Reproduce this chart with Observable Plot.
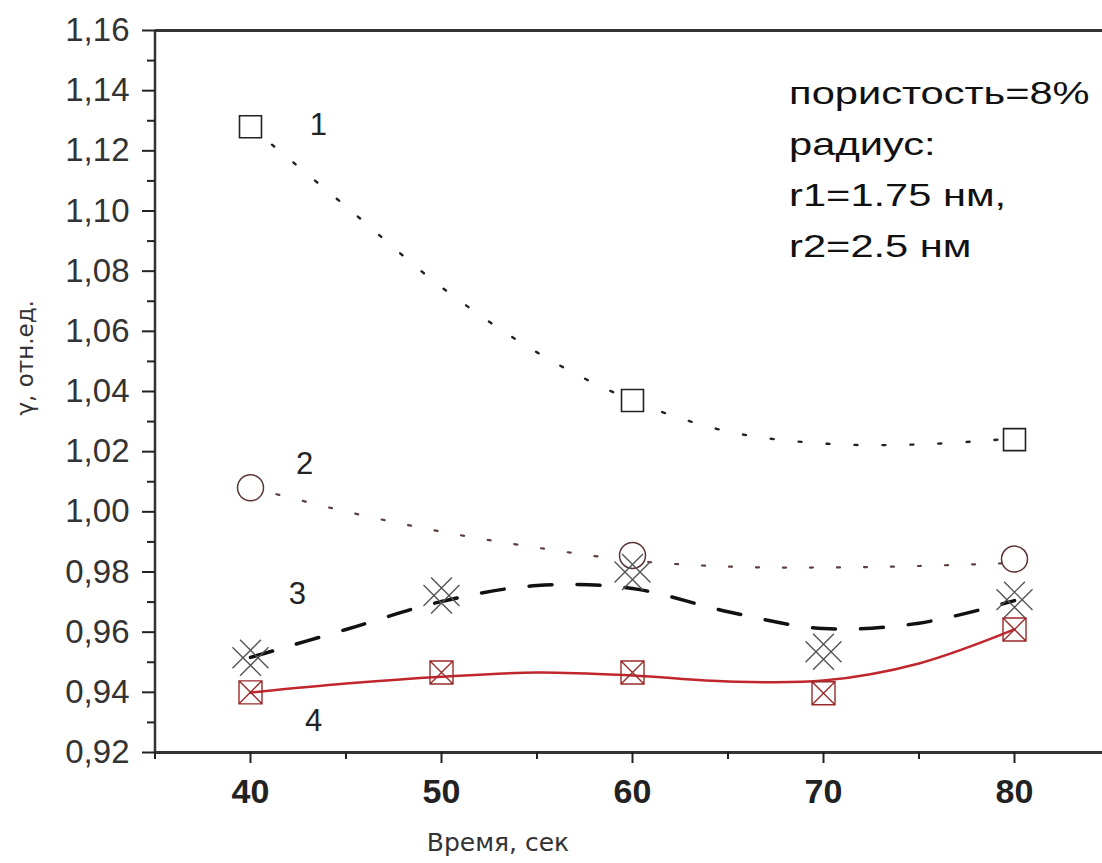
<!DOCTYPE html>
<html>
<head>
<meta charset="utf-8">
<script src="https://cdn.jsdelivr.net/npm/d3@7"></script>
<script src="https://cdn.jsdelivr.net/npm/@observablehq/plot@0.6"></script>
<style>
  html, body { margin: 0; padding: 0; background: #fff; overflow: hidden; }
  #chart svg { display: block; }
</style>
</head>
<body>
<div id="chart"></div>
<script>
// ---- data ----
const timeAll = [40, 50, 60, 70, 80];
const timeSparse = [40, 60, 80];
const gamma1 = [1.128, 1.037, 1.024];
const gamma2 = [1.008, 0.9855, 0.9843];
const gamma3 = [0.9515, 0.9722, 0.9800, 0.9535, 0.9708];
const gamma4 = [0.9400, 0.9466, 0.9466, 0.9397, 0.9609];

const fitTime = [40, 45, 50, 55, 60, 65, 70, 75, 80];
const fit1 = [1.128, 1.1015, 1.0747, 1.053, 1.037, 1.0267, 1.0227, 1.0224, 1.0244];
const fit2 = [1.0081, 1.0001, 0.9934, 0.9881, 0.9838, 0.9818, 0.9815, 0.9820, 0.9830];
const fit3 = [0.9516, 0.9609, 0.9702, 0.9755, 0.9745, 0.9668, 0.9612, 0.9630, 0.9705];
const fit4 = [0.9399, 0.9429, 0.9452, 0.9466, 0.9456, 0.9436, 0.9439, 0.9496, 0.9609];

const curveLabels = ["1", "2", "3", "4"];
const curveLabelX = [43.56, 42.83, 42.46, 43.3];
const curveLabelY = [1.1287, 1.016, 0.9728, 0.9303];

const noteText = "пористость=8%\nрадиус:\nr1=1.75 нм,\nr2=2.5 нм";
const noteX = [68.2];
const noteY = [1.1477];

const xTicksMajor = [40, 50, 60, 70, 80];
const xTicksMinor = [35, 45, 55, 65, 75];
const yTicksMajor = [0.92, 0.94, 0.96, 0.98, 1.00, 1.02, 1.04, 1.06, 1.08, 1.10, 1.12, 1.14, 1.16];
const yTicksMinor = [0.93, 0.95, 0.97, 0.99, 1.01, 1.03, 1.05, 1.07, 1.09, 1.11, 1.13, 1.15];

const xTitle = "Время, сек";
const yTitle = "γ, отн.ед.";

// ---- tables ----
const zip = (xs, ys) => xs.map((x, i) => ({x, y: ys[i]}));
const pts1 = zip(timeSparse, gamma1);
const pts2 = zip(timeSparse, gamma2);
const pts3 = zip(timeAll, gamma3);
const pts4 = zip(timeAll, gamma4);
const line1 = zip(fitTime, fit1);
const line2 = zip(fitTime, fit2);
const line3 = zip(fitTime, fit3);
const line4 = zip(fitTime, fit4);
const labels = curveLabels.map((t, i) => ({t, x: curveLabelX[i], y: curveLabelY[i]}));

// ---- custom symbols ----
const doubleCross = {
  draw(ctx, size) {
    const h = Math.sqrt(size / Math.PI);
    const d = h * 0.42;
    ctx.moveTo(-h, -h + d); ctx.lineTo(h - d, h);
    ctx.moveTo(-h + d, -h); ctx.lineTo(h, h - d);
    ctx.moveTo(h, -h + d); ctx.lineTo(-h + d, h);
    ctx.moveTo(h - d, -h); ctx.lineTo(-h, h - d);
  }
};
const squareCross = {
  draw(ctx, size) {
    const h = Math.sqrt(size / Math.PI);
    ctx.moveTo(-h, -h); ctx.lineTo(h, -h); ctx.lineTo(h, h); ctx.lineTo(-h, h); ctx.closePath();
    ctx.moveTo(-h, -h); ctx.lineTo(h, h);
    ctx.moveTo(h, -h); ctx.lineTo(-h, h);
  }
};

const fmt = d => d3.format(".2f")(d).replace(".", ",");
const SANS = "Liberation Sans, Arial, sans-serif";

const chart = Plot.plot({
  width: 1102,
  height: 863,
  marginLeft: 155,
  marginRight: 0,
  marginTop: 30,
  marginBottom: 111,
  style: {fontFamily: "DejaVu Sans, Liberation Sans, sans-serif", background: "#fff", color: "#222"},
  x: {domain: [35, 85], range: [154.5, 1109.5], label: null},
  y: {domain: [0.92, 1.16], range: [752, 30], label: null},
  marks: [
    // fitted curves
    Plot.line(line1, {x: "x", y: "y", curve: "catmull-rom", stroke: "#222", strokeWidth: 2.4, strokeDasharray: "3,25"}),
    Plot.line(line2, {x: "x", y: "y", curve: "catmull-rom", stroke: "#5e3e3e", strokeWidth: 2.2, strokeDasharray: "3,24"}),
    Plot.line(line3, {x: "x", y: "y", curve: "catmull-rom", stroke: "#111", strokeWidth: 3.5, strokeDasharray: "23,25"}),
    Plot.line(line4, {x: "x", y: "y", curve: "catmull-rom", stroke: "#c0262d", strokeWidth: 2.5}),
    // markers
    Plot.dot(pts1, {x: "x", y: "y", symbol: "square", r: 12.4, stroke: "#222", strokeWidth: 1.6, fill: "white"}),
    Plot.dot(pts2, {x: "x", y: "y", symbol: "circle", r: 13, stroke: "#5b3535", strokeWidth: 1.5, fill: "white"}),
    Plot.dot(pts3, {x: "x", y: "y", symbol: doubleCross, r: 18, stroke: "#555", strokeWidth: 1.4, fill: "none"}),
    Plot.dot(pts4, {x: "x", y: "y", symbol: squareCross, r: 11.5, stroke: "#9a2a2a", strokeWidth: 1.4, fill: "none"}),
    // frame lines
    Plot.ruleY([1.16], {stroke: "#333", strokeWidth: 3}),
    Plot.ruleY([0.92], {stroke: "#333", strokeWidth: 3}),
    Plot.ruleX([35], {stroke: "#333", strokeWidth: 2.5}),
    // axes
    Plot.axisY({ticks: yTicksMajor, tickSize: 13, tickPadding: 13, tickFormat: fmt, fontSize: 33, fontFamily: SANS, fill: "#333", strokeWidth: 2, label: null}),
    Plot.axisY({ticks: yTicksMinor, tickSize: 8, text: null, strokeWidth: 2, label: null}),
    Plot.axisX({ticks: xTicksMajor, tickSize: 11, tickPadding: 15, tickFormat: d => String(d), fontSize: 34, fontFamily: SANS, fontWeight: "bold", fill: "#222", strokeWidth: 2, label: null}),
    Plot.axisX({ticks: xTicksMinor, tickSize: 7, text: null, strokeWidth: 2, label: null}),
    // axis titles
    Plot.text([xTitle], {frameAnchor: "bottom", dx: -131, dy: 98, fontSize: 25, fill: "#333"}),
    Plot.text([yTitle], {frameAnchor: "left", dx: -130, dy: 24, rotate: -90, fontSize: 23, fill: "#333"}),
    // curve numbers
    Plot.text(labels, {x: "x", y: "y", text: "t", fontSize: 31, fontFamily: SANS, fill: "#222"}),
    // annotation
    Plot.text([noteText], {x: () => noteX[0], y: () => noteY[0], textAnchor: "start", lineAnchor: "top", lineHeight: 1.6, fontSize: 32, fontFamily: SANS, fill: "#111"})
  ]
});

// the annotation in the reference is horizontally stretched
for (const t of chart.querySelectorAll("text")) {
  if (t.textContent.startsWith("пористость")) {
    const tr = t.getAttribute("transform") || "";
    t.setAttribute("transform", tr + " scale(1.3,1)");
  }
}

document.getElementById("chart").appendChild(chart);
</script>
</body>
</html>
